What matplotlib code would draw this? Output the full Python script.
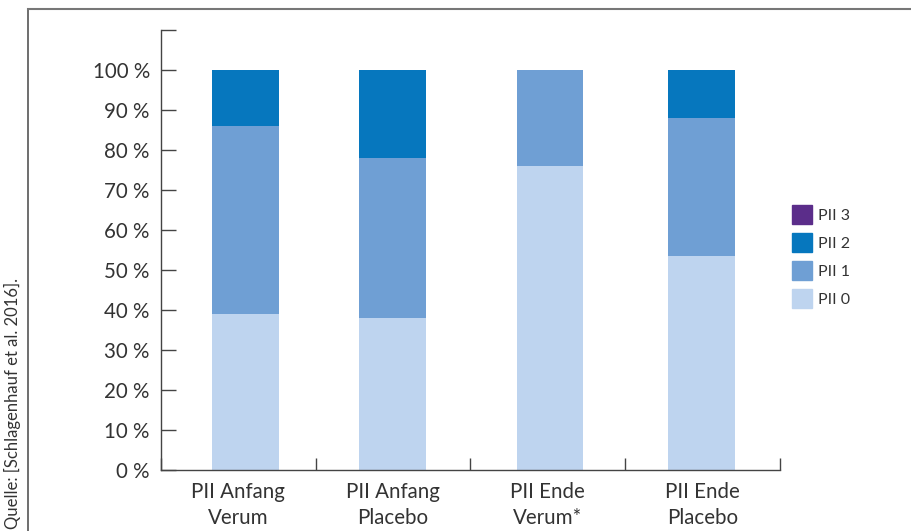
import matplotlib.pyplot as plt
from matplotlib.lines import Line2D
from matplotlib.patches import Patch
import numpy as np

plt.rcParams['font.family'] = ['Lato', 'DejaVu Sans']

# data (percent per group)
groups = ['PII Anfang\nVerum', 'PII Anfang\nPlacebo', 'PII Ende\nVerum*', 'PII Ende\nPlacebo']
pii0 = [39, 38, 76, 53.4]
pii1 = [47, 40, 24, 34.6]
pii2 = [14, 22, 0, 12]
pii3 = [0, 0, 0, 0]
series_names = ['PII 0', 'PII 1', 'PII 2', 'PII 3']
colors = ['#BED4EF', '#6F9FD4', '#0677BE', '#5B2D8A']
yticks = [0, 10, 20, 30, 40, 50, 60, 70, 80, 90, 100]

fig = plt.figure(figsize=(9.12, 5.31), dpi=100)
ax = fig.add_axes([0.1765, 0.1149, 0.6787, 0.8286])

x = np.arange(len(groups))
bar_x = x + np.array([0.045, -0.003, 0.013, -0.006])  # bars sit slightly off-centre
bottom = np.zeros(len(groups))
for vals, col in zip([pii0, pii1, pii2, pii3], colors):
    ax.bar(bar_x, vals, width=0.43, bottom=bottom, color=col, linewidth=0)
    bottom += np.array(vals)

ax.set_xlim(-0.5, 3.5)
ax.set_ylim(0, 110)
ax.set_yticks(yticks + [110])
ax.set_yticklabels([f'{t} %' for t in yticks] + [''])
ax.set_xticks(x)
ax.set_xticklabels(groups, linespacing=1.35)
ax.set_xticks(np.arange(-0.5, 4, 1), minor=True)

for s in ['top', 'right']:
    ax.spines[s].set_visible(False)
for s in ['left', 'bottom']:
    ax.spines[s].set_color('#444444')
    ax.spines[s].set_linewidth(1.0)

ax.tick_params(axis='y', direction='in', length=10.5, width=1, color='#444444',
               labelsize=14.8, labelcolor='#333333', pad=8)
ax.tick_params(axis='x', which='major', length=0, labelsize=14.8,
               labelcolor='#333333', pad=9)
ax.tick_params(axis='x', which='minor', direction='in', length=9, width=1,
               color='#444444')

handles = [Patch(color=c, label=n) for n, c in zip(series_names, colors)][::-1]
fig.legend(handles=handles, loc='center left', bbox_to_anchor=(792 / 912, 0.517),
           frameon=False, fontsize=11.5, handlelength=1.25, handleheight=1.4,
           labelspacing=0.6, handletextpad=0.35, borderpad=0, borderaxespad=0,
           labelcolor='#333333')

# frame lines
fig.add_artist(Line2D([28 / 912, 28 / 912], [0, 1 - 8.5 / 531], color='#555555', lw=1.2))
fig.add_artist(Line2D([28 / 912, 1], [1 - 8.5 / 531, 1 - 8.5 / 531], color='#777777', lw=1.5))

fig.text(12.5 / 912, 0.004, 'Quelle: [Schlagenhauf et al. 2016].', rotation=90,
         ha='center', va='bottom', fontsize=12, color='#333333')

fig.savefig('out.png', dpi=100)
